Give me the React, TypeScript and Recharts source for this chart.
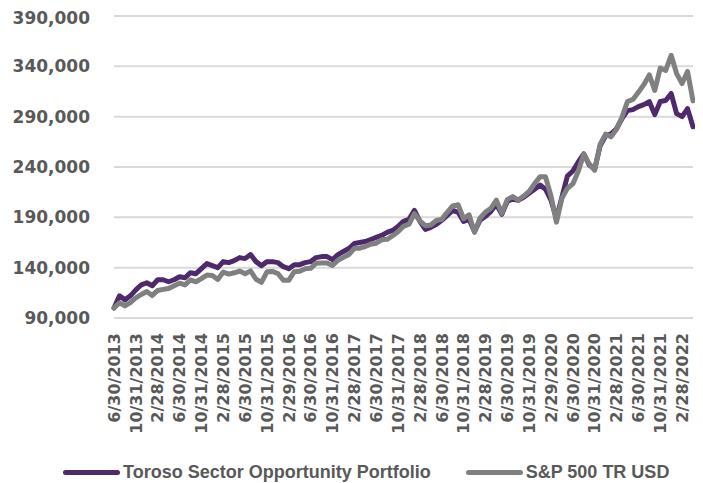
import { LineChart, Line, XAxis, YAxis, CartesianGrid, Legend } from 'recharts';

const DATES = [
  '6/30/2013', '7/31/2013', '8/31/2013', '9/30/2013', '10/31/2013', '11/30/2013', '12/31/2013',
  '1/31/2014', '2/28/2014', '3/31/2014', '4/30/2014', '5/31/2014', '6/30/2014', '7/31/2014', '8/31/2014', '9/30/2014', '10/31/2014', '11/30/2014', '12/31/2014',
  '1/31/2015', '2/28/2015', '3/31/2015', '4/30/2015', '5/31/2015', '6/30/2015', '7/31/2015', '8/31/2015', '9/30/2015', '10/31/2015', '11/30/2015', '12/31/2015',
  '1/31/2016', '2/29/2016', '3/31/2016', '4/30/2016', '5/31/2016', '6/30/2016', '7/31/2016', '8/31/2016', '9/30/2016', '10/31/2016', '11/30/2016', '12/31/2016',
  '1/31/2017', '2/28/2017', '3/31/2017', '4/30/2017', '5/31/2017', '6/30/2017', '7/31/2017', '8/31/2017', '9/30/2017', '10/31/2017', '11/30/2017', '12/31/2017',
  '1/31/2018', '2/28/2018', '3/31/2018', '4/30/2018', '5/31/2018', '6/30/2018', '7/31/2018', '8/31/2018', '9/30/2018', '10/31/2018', '11/30/2018', '12/31/2018',
  '1/31/2019', '2/28/2019', '3/31/2019', '4/30/2019', '5/31/2019', '6/30/2019', '7/31/2019', '8/31/2019', '9/30/2019', '10/31/2019', '11/30/2019', '12/31/2019',
  '1/31/2020', '2/29/2020', '3/31/2020', '4/30/2020', '5/31/2020', '6/30/2020', '7/31/2020', '8/31/2020', '9/30/2020', '10/31/2020', '11/30/2020', '12/31/2020',
  '1/31/2021', '2/28/2021', '3/31/2021', '4/30/2021', '5/31/2021', '6/30/2021', '7/31/2021', '8/31/2021', '9/30/2021', '10/31/2021', '11/30/2021', '12/31/2021',
  '1/31/2022', '2/28/2022', '3/31/2022', '4/30/2022',
];

// Toroso Sector Opportunity Portfolio, growth of 100,000
const TOROSO = [
  100000, 112000, 108000, 112000, 118000, 123000, 125000,
  122000, 128000, 128000, 126000, 128000, 131000, 130000, 135000, 134000, 139000, 144000, 142000,
  140000, 146000, 145000, 147000, 150000, 149000, 153000, 146000, 142000, 146000, 146000, 145000,
  141000, 139000, 143000, 143000, 145000, 146000, 150000, 151000, 151000, 148000, 153000, 156000,
  159000, 164000, 165000, 166000, 168000, 170000, 172000, 175000, 177000, 181000, 186000, 188000,
  197000, 186000, 178000, 180000, 183000, 187000, 192000, 197000, 195000, 186000, 188000, 176000,
  187000, 191000, 196000, 203000, 193000, 206000, 208000, 207000, 210000, 214000, 218000, 222000,
  218000, 207000, 189000, 210000, 231000, 236000, 245000, 253000, 242000, 238000, 261000, 271000,
  273000, 278000, 288000, 296000, 297000, 300000, 302000, 305000, 292000, 305000, 306000, 313000,
  293000, 290000, 298000, 280000,
];

// S&P 500 TR USD, growth of 100,000
const SP500 = [
  100000, 105100, 102000, 105200, 110100, 113400, 116300,
  112300, 117400, 118400, 119300, 122100, 124600, 122900, 127800, 126000, 129100, 132600, 132300,
  128300, 135700, 133600, 134900, 136600, 134000, 136800, 128500, 125400, 135900, 136300, 134200,
  127500, 127400, 136000, 136500, 139000, 139300, 144500, 144700, 144700, 142100, 147300, 150200,
  153100, 159200, 159400, 161000, 163300, 164300, 167700, 168200, 171700, 175700, 181100, 183100,
  193600, 186500, 181700, 182400, 186800, 188000, 195000, 201300, 202500, 188600, 192500, 175100,
  189100, 195200, 199000, 207100, 193900, 207600, 210600, 207200, 211100, 215700, 223500, 230300,
  230200, 211200, 185200, 208900, 218800, 223200, 235800, 252700, 243100, 236700, 262600, 272700,
  269900, 277400, 289500, 305000, 307100, 314300, 321800, 331500, 316100, 338300, 335900, 351000,
  332800, 322900, 334900, 305700,
];

const Y_TICKS = [90000, 140000, 190000, 240000, 290000, 340000, 390000];

const SERIES = [
  { key: 'toroso', name: 'Toroso Sector Opportunity Portfolio', color: '#4E2A6C' },
  { key: 'sp', name: 'S&P 500 TR USD', color: '#808080' },
];

const data = DATES.map((d, i) => ({ date: d, toroso: TOROSO[i], sp: SP500[i] }));

const TEXT = '#595959';

function DateTick({ x, y, payload }: any) {
  return (
    <g transform={`translate(${x},${y})`}>
      <text
        transform="rotate(-90)"
        textAnchor="end"
        dy="0.36em"
        fill={TEXT}
        fontSize={16}
        fontWeight={700}
        fontFamily="DejaVu Sans"
      >
        {payload.value}
      </text>
    </g>
  );
}

function LegendBox() {
  return (
    <div
      style={{
        display: 'flex',
        alignItems: 'center',
        paddingLeft: 55,
        paddingTop: 2,
        fontFamily: '"Liberation Sans", Arial, sans-serif',
        fontWeight: 700,
        fontSize: 18,
        color: TEXT,
        height: 26,
      }}
    >
      {SERIES.map((s, i) => (
        <div key={s.key} style={{ display: 'flex', alignItems: 'center', marginRight: i === 0 ? 35 : 0 }}>
          <span style={{ width: 57, height: 5, borderRadius: 3, background: s.color, marginRight: 3 }} />
          <span>{s.name}</span>
        </div>
      ))}
    </div>
  );
}

export default function App() {
  return (
    <LineChart width={687} height={475} data={data} margin={{ top: 8, right: 2, left: 0, bottom: 0 }}>
      <CartesianGrid horizontal vertical={false} stroke="#D9D9D9" strokeWidth={2} />
      <XAxis
        dataKey="date"
        interval={3}
        axisLine={false}
        tickLine={false}
        tickSize={0}
        tickMargin={15}
        height={139}
        tick={<DateTick />}
      />
      <YAxis
        domain={[90000, 390000]}
        ticks={Y_TICKS}
        width={106}
        axisLine={false}
        tickLine={false}
        tickSize={0}
        tickMargin={24}
        tickFormatter={(v: number) => v.toLocaleString('en-US')}
        tick={{ fill: TEXT, fontSize: 17, fontWeight: 700, fontFamily: 'DejaVu Sans' }}
      />
      <Legend verticalAlign="bottom" height={26} content={<LegendBox />} />
      {SERIES.map((s) => (
        <Line
          key={s.key}
          dataKey={s.key}
          name={s.name}
          stroke={s.color}
          strokeWidth={5}
          strokeLinejoin="round"
          strokeLinecap="round"
          dot={false}
          isAnimationActive={false}
        />
      ))}
    </LineChart>
  );
}
